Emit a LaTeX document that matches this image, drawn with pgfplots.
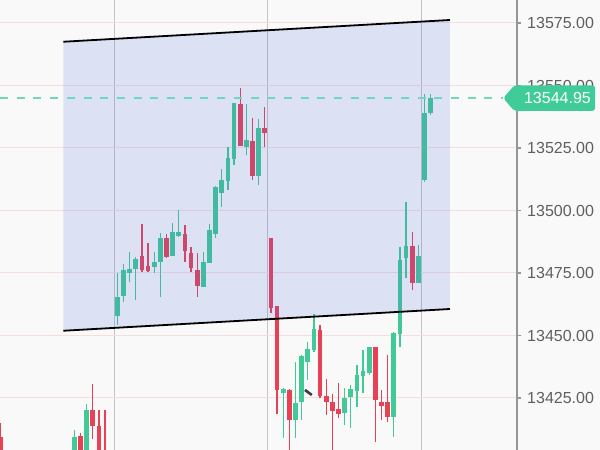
\documentclass[border=0pt]{standalone}
\usepackage{fontspec}
\setmainfont{Liberation Sans}
\usepackage{pgfplots}
\pgfplotsset{compat=1.18}
\usepackage{pgfplotstable}

\definecolor{cbg}{RGB}{249,249,249}
\definecolor{cup}{RGB}{66,201,152}
\definecolor{cdown}{RGB}{232,65,85}
\definecolor{cchan}{RGB}{70,110,220}
\definecolor{cdash}{RGB}{112,214,190}
\definecolor{cflag}{RGB}{63,204,153}
\definecolor{cvgrid}{RGB}{196,196,200}
\definecolor{chgrid}{RGB}{245,222,222}
\definecolor{caxis}{RGB}{150,150,150}
\definecolor{clabel}{RGB}{95,95,95}

% candle index, open, high, low, close
\pgfplotstableread{
x o h l c
-7 13400 13412.2 13395 13409.4
-5 13402 13422.6 13395 13420.5
0 13457.8 13474.9 13454.2 13465.5
1 13465.8 13478.6 13463.5 13476.2
2 13474.9 13483.5 13471.5 13476.5
3 13476.5 13481.3 13464.2 13480.5
6 13477.5 13483.5 13474.9 13479.5
7 13479.5 13490.9 13465.5 13488.9
9 13481.8 13495.1 13481.8 13491.5
10 13489.8 13500.2 13489.5 13491.5
14 13469.3 13483.5 13469.3 13479.5
15 13479.1 13494.6 13479.1 13492.5
16 13490.6 13509.8 13488.9 13509.3
17 13507.1 13516.5 13501.5 13512.2
18 13511.9 13525.5 13508.2 13520.9
19 13520.5 13543.1 13518.2 13543.1
21 13525.5 13542.6 13522.2 13528.2
23 13513.8 13536.9 13510.2 13532.9
27 13426.9 13429.3 13408.9 13428.5
29 13416.2 13439.5 13409.0 13423.1
30 13423.5 13442.2 13416.2 13441.8
31 13439.5 13447.5 13432.2 13444.5
32 13444.2 13458.6 13443.5 13452.5
37 13418.9 13429.3 13414.2 13424.9
38 13425.3 13430.2 13412.9 13428.5
39 13427.9 13438.2 13421.5 13434.2
40 13433.8 13444.5 13427.1 13435.9
41 13435.1 13445.5 13434.2 13445.5
45 13417.3 13451.5 13409.5 13451.1
46 13450.6 13485.5 13445.5 13480.2
47 13481.3 13503.5 13472.9 13485.8
49 13471.1 13486.2 13471.1 13481.8
50 13512.2 13546.6 13511.5 13538.9
51 13538.9 13546.6 13538.2 13544.95
}\upcandles

\pgfplotstableread{
x o h l c
-19 13409.4 13415.0 13395 13400
-6 13409.9 13411.1 13395 13401
-4 13420.5 13430.6 13408.9 13413.8
-3 13413.8 13420.2 13395 13403
-2 13403 13420.2 13395 13398
4 13481.8 13494.9 13475.5 13476.2
5 13477.8 13486.9 13475.5 13475.9
8 13488.9 13490.6 13480.9 13481.3
11 13490.5 13494.2 13479.5 13483.9
12 13483.1 13485.5 13475.5 13477.3
13 13476.5 13482.9 13465.5 13469.8
20 13542.6 13548.9 13525.8 13525.8
22 13527.8 13536.9 13512.2 13513.8
24 13532.9 13541.5 13525.5 13531.1
25 13489.1 13489.1 13458.9 13460.9
26 13461.8 13461.8 13418.9 13428.2
28 13428.5 13428.5 13403 13416.2
33 13452.5 13454.2 13424.9 13425.8
34 13425.8 13432.9 13418.2 13423.5
35 13423.5 13426.6 13400 13419.9
36 13420.5 13430.9 13416.9 13418.6
42 13445.5 13445.5 13407.5 13424.2
43 13423.5 13428.2 13416.2 13421.8
44 13423.5 13442.2 13415.5 13417.3
48 13485.8 13491.5 13468.2 13471.1
}\downcandles

\pgfplotsset{
  wick/.style={only marks, mark=text, text mark={}, forget plot,
    error bars/.cd, y dir=both, y explicit, error mark=none,
    error bar style={line width=1.3bp, color=#1}},
  body/.style={only marks, mark=text, text mark={}, forget plot,
    error bars/.cd, y dir=both, y explicit, error mark=none,
    error bar style={line width=4.7bp, color=#1}},
}

\begin{document}
\begin{tikzpicture}
\useasboundingbox (0,0) rectangle (600bp,450bp);
\fill[cbg] (0,0) rectangle (600bp,450bp);
\begin{axis}[
    scale only axis, width=517bp, height=450bp,
    at={(0,0)}, anchor=south west,
    xmin=-19.09, xmax=65.05,
    ymin=13404.2, ymax=13584.2,
    axis x line*=bottom, axis y line*=right,
    x axis line style={draw=none},
    y axis line style={draw=caxis, line width=1.3bp},
    xtick={-0.5,24.5,49.5}, xticklabels={}, xtick style={draw=none},
    xmajorgrids, x grid style={cvgrid, line width=1.2bp},
    ytick={13425,13450,13475,13500,13525,13550,13575},
    scaled y ticks=false,
    ymajorgrids, y grid style={chgrid, line width=1bp},
    ytick align=outside, major tick length=4bp,
    ytick style={caxis, line width=1.2bp},
    yticklabel style={font=\fontsize{16bp}{16bp}\selectfont, text=clabel,
      anchor=west, inner sep=0pt, xshift=6bp,
      /pgf/number format/fixed, /pgf/number format/fixed zerofill,
      /pgf/number format/precision=2, /pgf/number format/1000 sep={}},
    /pgf/number format/assume math mode=true,
  ]
  % candles
  \addplot[wick=cup] table[x=x, y expr={(\thisrow{h}+\thisrow{l})/2},
    y error expr={(\thisrow{h}-\thisrow{l})/2}] {\upcandles};
  \addplot[body=cup] table[x=x, y expr={(\thisrow{o}+\thisrow{c})/2},
    y error expr={max(abs(\thisrow{c}-\thisrow{o})/2,0.7)}] {\upcandles};
  \addplot[wick=cdown] table[x=x, y expr={(\thisrow{h}+\thisrow{l})/2},
    y error expr={(\thisrow{h}-\thisrow{l})/2}] {\downcandles};
  \addplot[body=cdown] table[x=x, y expr={(\thisrow{o}+\thisrow{c})/2},
    y error expr={max(abs(\thisrow{c}-\thisrow{o})/2,0.7)}] {\downcandles};

  % small drawn stroke
  \addplot[draw={rgb,255:red,60;green,60;blue,60}, line width=2.6bp, forget plot]
    coordinates {(30.55,13428.2) (31.65,13426.2)};

  % parallel channel
  \addplot[draw=none, fill=cchan, fill opacity=0.16, forget plot]
    coordinates {(-8.79,13567.5) (54.14,13576.2) (54.14,13460.6) (-8.79,13451.9)} -- cycle;
  \addplot[black, line width=1.8bp, forget plot]
    coordinates {(-8.79,13567.5) (54.14,13576.2)};
  \addplot[black, line width=1.8bp, forget plot]
    coordinates {(-8.79,13451.9) (54.14,13460.6)};

  % last price line
  \addplot[cdash, line width=1.4bp, dash pattern=on 8bp off 8.7bp, forget plot]
    coordinates {(-19.09,13544.95) (62.81,13544.95)};
  \coordinate (P) at (axis cs:62.81,13544.95);
\end{axis}
\fill[cflag, rounded corners=3bp] (P) -- ++(11bp,12.8bp) -- ++(80.9bp,0) -- ++(0,-25.6bp) -- ++(-80.9bp,0) -- cycle;
\node[text=white, font=\fontsize{16bp}{16bp}\selectfont, inner sep=0pt] at ([xshift=54.2bp]P) {13544.95};
\end{tikzpicture}
\end{document}
